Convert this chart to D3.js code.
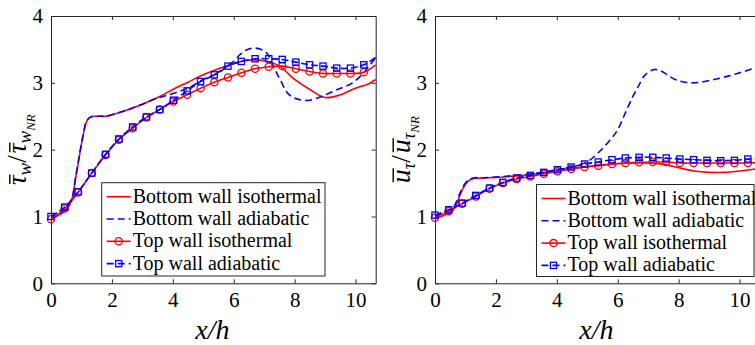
<!DOCTYPE html>
<html>
<head>
<meta charset="utf-8">
<script src="https://cdn.jsdelivr.net/npm/d3@7"></script>
</head>
<body style="margin:0">
<script>
// ---- data ----
const seriesNames = ['Bottom wall isothermal', 'Bottom wall adiabatic', 'Top wall isothermal', 'Top wall adiabatic']
const xTicks = [0, 2, 4, 6, 8, 10]
const yTicks = [0, 1, 2, 3, 4]
const xMax = 10.66

// marker stations of the top wall series, last entry is the line end at the axis edge
const topX = [0, 0.45, 0.89, 1.34, 1.79, 2.23, 2.68, 3.13, 3.57, 4.02, 4.47, 4.91, 5.36, 5.81,
  6.25, 6.7, 7.15, 7.59, 8.04, 8.49, 8.93, 9.38, 9.83, 10.27, 10.66]

// left panel: wall shear stress ratio
const tauBotIsoX = [0, 0.25, 0.5, 0.68, 0.8, 0.93, 1.05, 1.17, 1.3, 1.5, 1.8, 2.2, 2.6, 3.0, 3.5, 4.0,
  4.5, 5.0, 5.5, 6.0, 6.5, 7.0, 7.5, 8.0, 8.5, 9.0, 9.5, 10.0, 10.4, 10.66]
const tauBotIsoY = [0.95, 1.02, 1.1, 1.25, 1.55, 1.9, 2.2, 2.42, 2.49, 2.5, 2.5, 2.55, 2.61, 2.68, 2.78, 2.9,
  3.01, 3.12, 3.21, 3.29, 3.34, 3.33, 3.25, 3.05, 2.9, 2.78, 2.82, 2.92, 2.98, 3.05]
const tauBotAdiX = [0, 0.25, 0.5, 0.68, 0.8, 0.93, 1.05, 1.17, 1.3, 1.5, 1.8, 2.2, 2.6, 3.0, 3.5, 4.0,
  4.5, 5.0, 5.5, 5.8, 6.0, 6.2, 6.45, 6.65, 6.9, 7.1, 7.3, 7.52, 7.8, 8.15, 8.5, 8.9, 9.4, 9.9, 10.3, 10.66]
const tauBotAdiY = [0.97, 1.03, 1.11, 1.26, 1.56, 1.91, 2.21, 2.43, 2.49, 2.5, 2.5, 2.55, 2.61, 2.68, 2.77, 2.84,
  2.92, 3.05, 3.15, 3.26, 3.32, 3.42, 3.5, 3.52, 3.5, 3.44, 3.25, 3.05, 2.83, 2.75, 2.74, 2.8, 2.9, 3.0, 3.17, 3.38]
const tauTopIso = [0.96, 1.12, 1.36, 1.65, 1.92, 2.15, 2.32, 2.48, 2.6, 2.72, 2.82, 2.92, 3.01, 3.08,
  3.15, 3.21, 3.24, 3.25, 3.21, 3.17, 3.14, 3.14, 3.14, 3.16, 3.27]
const tauTopAdi = [1.0, 1.14, 1.37, 1.65, 1.93, 2.16, 2.34, 2.49, 2.6, 2.74, 2.88, 3.02, 3.12, 3.25,
  3.32, 3.36, 3.36, 3.35, 3.31, 3.27, 3.25, 3.22, 3.22, 3.27, 3.38]

// right panel: friction velocity ratio
const utBotIsoX = [0, 0.3, 0.55, 0.7, 0.85, 1.0, 1.15, 1.3, 1.6, 2.0, 2.5, 3.0, 3.5, 4.0, 4.5, 5.0,
  5.5, 6.0, 6.5, 7.0, 7.5, 8.0, 8.5, 9.0, 9.5, 10.0, 10.66]
const utBotIsoY = [0.97, 1.02, 1.07, 1.18, 1.35, 1.48, 1.55, 1.57, 1.575, 1.585, 1.6, 1.62, 1.65, 1.68, 1.72, 1.75,
  1.77, 1.79, 1.8, 1.8, 1.78, 1.73, 1.68, 1.66, 1.66, 1.68, 1.72]
const utBotAdiX = [0, 0.3, 0.55, 0.7, 0.85, 1.0, 1.15, 1.3, 1.6, 2.0, 2.5, 3.0, 3.5, 4.0, 4.5, 5.0,
  5.33, 5.76, 6.0, 6.25, 6.5, 6.7, 6.9, 7.2, 7.45, 7.88, 8.42, 9.07, 9.62, 10.0, 10.43, 10.66]
const utBotAdiY = [1.0, 1.05, 1.1, 1.22, 1.38, 1.5, 1.56, 1.58, 1.58, 1.59, 1.61, 1.63, 1.66, 1.7, 1.74, 1.82,
  1.94, 2.15, 2.3, 2.55, 2.8, 2.97, 3.12, 3.2, 3.17, 3.05, 3.0, 3.04, 3.1, 3.15, 3.21, 3.24]
const utTopIso = [0.98, 1.08, 1.19, 1.3, 1.415, 1.5, 1.56, 1.6, 1.64, 1.675, 1.71, 1.74, 1.76, 1.785,
  1.8, 1.81, 1.815, 1.815, 1.8, 1.8, 1.8, 1.8, 1.8, 1.8, 1.81]
const utTopAdi = [1.02, 1.1, 1.2, 1.315, 1.425, 1.51, 1.575, 1.615, 1.66, 1.7, 1.74, 1.785, 1.815, 1.85,
  1.875, 1.885, 1.885, 1.875, 1.86, 1.85, 1.84, 1.835, 1.84, 1.86, 1.86]

const RED = '#ff0000'
const BLUE = '#0000ff'
const AXIS = '#262626'
const SERIF = '"Liberation Serif"'

const svg = d3.select('body').append('svg')
  .attr('width', 755)
  .attr('height', 345)

const zip = (xs, ys) => xs.map((x, i) => [x, ys[i]])

const panels = [
  {
    x0: 51, y0: 16, w: 324.7, h: 267.3,
    legend: { x: 101.7, y: 182.7, w: 223.3, h: 93.3 },
    label: { x: 26, pieces: [
      { t: 'τ', size: 27, italic: true, bar: true },
      { t: 'w', size: 19, shift: 5, italic: true },
      { t: '/', size: 27 },
      { t: 'τ', size: 27, italic: true, bar: true },
      { t: 'w', size: 19, shift: 5, italic: true },
      { t: 'NR', size: 13, shift: 9, italic: true }
    ] },
    series: [
      zip(tauBotIsoX, tauBotIsoY),
      zip(tauBotAdiX, tauBotAdiY),
      zip(topX, tauTopIso),
      zip(topX, tauTopAdi)
    ]
  },
  {
    x0: 435, y0: 16, w: 324.7, h: 267.3,
    legend: { x: 536.5, y: 184.5, w: 217.5, h: 92 },
    label: { x: 410, pieces: [
      { t: 'u', size: 28, italic: true, bar: true },
      { t: 'τ', size: 18, shift: 5, italic: true },
      { t: '/', size: 27 },
      { t: 'u', size: 28, italic: true, bar: true },
      { t: 'τ', size: 18, shift: 5, italic: true },
      { t: 'NR', size: 13, shift: 9, italic: true }
    ] },
    series: [
      zip(utBotIsoX, utBotIsoY),
      zip(utBotAdiX, utBotAdiY),
      zip(topX, utTopIso),
      zip(topX, utTopAdi)
    ]
  }
]

const styles = [
  { color: RED, dash: null, marker: null },
  { color: BLUE, dash: '7,4', marker: null },
  { color: RED, dash: null, marker: 'circle' },
  { color: BLUE, dash: '7,3', marker: 'square' }
]

panels.forEach(drawPanel)

function drawPanel(p) {
  const x = d3.scaleLinear().domain([0, xMax]).range([p.x0, p.x0 + p.w])
  const y = d3.scaleLinear().domain([0, 4]).range([p.y0 + p.h, p.y0])
  const g = svg.append('g')

  // axes with inward ticks on all four sides
  const tickLen = 4
  const fmt = d3.format('d')
  g.append('g').attr('transform', `translate(0,${p.y0 + p.h})`)
    .call(d3.axisBottom(x).tickValues(xTicks).tickFormat(fmt).tickSizeInner(-tickLen).tickSizeOuter(0).tickPadding(9))
  g.append('g').attr('transform', `translate(0,${p.y0})`)
    .call(d3.axisTop(x).tickValues(xTicks).tickSizeInner(-tickLen).tickSizeOuter(0).tickFormat(''))
  g.append('g').attr('transform', `translate(${p.x0},0)`)
    .call(d3.axisLeft(y).tickValues(yTicks).tickFormat(fmt).tickSizeInner(-tickLen).tickSizeOuter(0).tickPadding(8))
  g.append('g').attr('transform', `translate(${p.x0 + p.w},0)`)
    .call(d3.axisRight(y).tickValues(yTicks).tickSizeInner(-tickLen).tickSizeOuter(0).tickFormat(''))
  g.selectAll('g').attr('font-family', null).attr('font-size', null)
  g.selectAll('.domain').attr('stroke', AXIS).attr('stroke-width', 1)
  g.selectAll('.tick line').attr('stroke', AXIS).attr('stroke-width', 1)
  g.selectAll('.tick text')
    .style('font-family', SERIF)
    .style('font-size', '21px')
    .attr('fill', '#000')

  // series
  const line = d3.line().x(d => x(d[0])).y(d => y(d[1])).curve(d3.curveCatmullRom)
  p.series.forEach((data, i) => {
    const s = styles[i]
    g.append('path')
      .attr('d', line(data))
      .attr('fill', 'none')
      .attr('stroke', s.color)
      .attr('stroke-width', 1.6)
      .attr('stroke-dasharray', s.dash)
    if (s.marker) {
      const pts = data.slice(0, data.length - 1)
      drawMarkers(g, pts.map(d => [x(d[0]), y(d[1])]), s)
    }
  })

  // legend
  const L = p.legend
  const lg = g.append('g')
  lg.append('rect')
    .attr('x', L.x).attr('y', L.y).attr('width', L.w).attr('height', L.h)
    .attr('fill', '#fff').attr('stroke', AXIS).attr('stroke-width', 1)
  seriesNames.forEach((name, i) => {
    const s = styles[i]
    const cy = L.y + 14 + i * 22.3
    lg.append('line')
      .attr('x1', L.x + 5).attr('x2', L.x + 29)
      .attr('y1', cy).attr('y2', cy)
      .attr('stroke', s.color).attr('stroke-width', 1.6)
      .attr('stroke-dasharray', s.dash ? '7,4' : null)
    if (s.marker) drawMarkers(lg, [[L.x + 17, cy]], s)
    lg.append('text')
      .attr('x', L.x + 31).attr('y', cy + 6)
      .style('font-family', SERIF)
      .style('font-size', '20px')
      .text(name)
  })

  // x label
  g.append('text')
    .attr('x', p.x0 + p.w / 2 - 1)
    .attr('y', 339)
    .attr('text-anchor', 'middle')
    .style('font-family', SERIF)
    .style('font-size', '28px')
    .style('font-style', 'italic')
    .text('x/h')

  // y label, built piece by piece so the overbars sit right over the glyphs
  richLabel(g, p.label.pieces, p.label.x, p.y0 + p.h / 2)
}

function drawMarkers(g, pts, s) {
  if (s.marker === 'circle') {
    g.selectAll(null).data(pts).enter().append('circle')
      .attr('cx', d => d[0]).attr('cy', d => d[1]).attr('r', 3.6)
      .attr('fill', 'none').attr('stroke', s.color).attr('stroke-width', 1.3)
  } else {
    g.selectAll(null).data(pts).enter().append('rect')
      .attr('x', d => d[0] - 3.1).attr('y', d => d[1] - 3.1)
      .attr('width', 6.2).attr('height', 6.2)
      .attr('fill', 'none').attr('stroke', s.color).attr('stroke-width', 1.3)
  }
}

function richLabel(parent, pieces, bx, cy) {
  const g = parent.append('g')
  let cx = 0
  pieces.forEach(pc => {
    const t = g.append('text')
      .attr('x', cx)
      .attr('y', pc.shift || 0)
      .style('font-family', SERIF)
      .style('font-size', pc.size + 'px')
      .style('font-style', pc.italic ? 'italic' : 'normal')
      .text(pc.t)
    const w = t.node().getComputedTextLength()
    if (pc.bar) {
      g.append('line')
        .attr('x1', cx + 1).attr('x2', cx + w + 1)
        .attr('y1', -pc.size * 0.6).attr('y2', -pc.size * 0.6)
        .attr('stroke', '#000').attr('stroke-width', 1.4)
    }
    cx += w + (pc.t === '/' ? 2 : 0)
  })
  // rotate so the label reads bottom to top, centred on cy
  g.attr('transform', `translate(${bx},${cy + cx / 2}) rotate(-90)`)
}
</script>
</body>
</html>
